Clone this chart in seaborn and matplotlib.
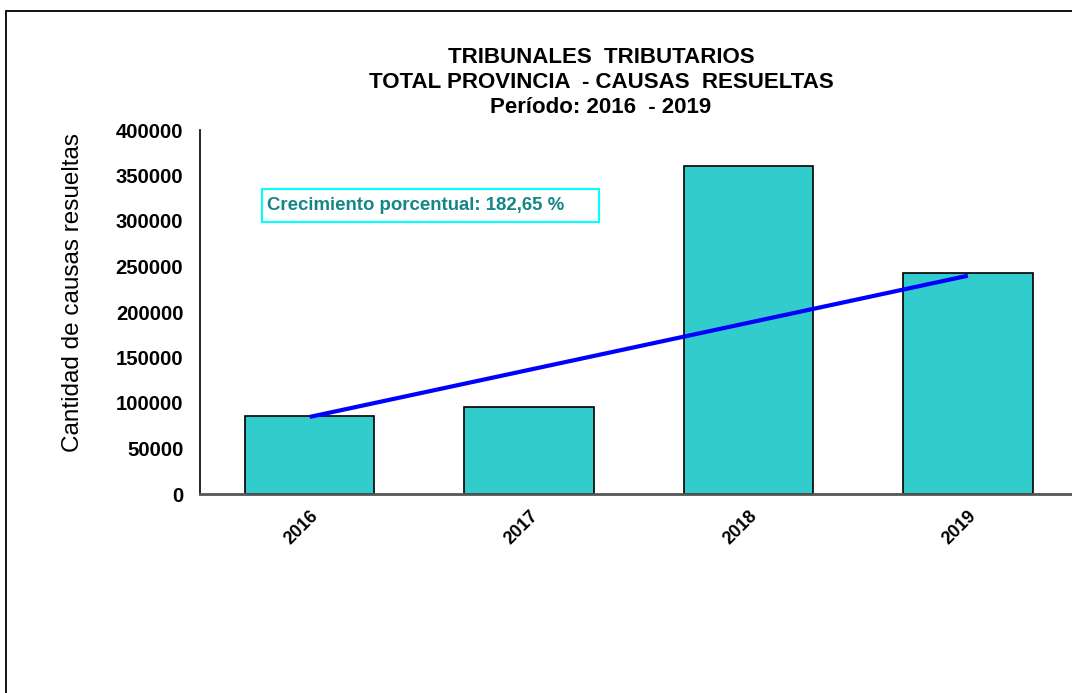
import numpy as np
import pandas as pd
import matplotlib
matplotlib.use("Agg")
import matplotlib.pyplot as plt
from matplotlib.patches import Rectangle
import seaborn as sns

# Datos
anios = ["2016", "2017", "2018", "2019"]
causas = [86000, 95800, 360400, 243100]
tendencia_x = [0, 3]
tendencia_y = [84700, 239900]
yticks = [0, 50000, 100000, 150000, 200000, 250000, 300000, 350000, 400000]

df = pd.DataFrame({"anio": anios, "causas": causas})

sns.set_style("white")
plt.rcParams['font.family'] = ['Liberation Sans', 'DejaVu Sans']
plt.rcParams['text.color'] = 'black'
plt.rcParams['axes.labelcolor'] = 'black'
plt.rcParams['xtick.color'] = 'black'
plt.rcParams['ytick.color'] = 'black'

W, H = 1072, 693
fig = plt.figure(figsize=(W / 100, H / 100), dpi=100)
ax = fig.add_axes([200 / W, (H - 494) / H, 877.6 / W, 364 / H])

sns.barplot(data=df, x="anio", y="causas", color="#33CCCC", width=0.59,
            edgecolor="black", linewidth=1.2, saturation=1, ax=ax)
ax.plot(tendencia_x, tendencia_y, color="#0000FF", lw=3, solid_capstyle="butt")

ax.set_xlim(-0.5, 3.5)
ax.set_ylim(0, 400000)
ax.set_yticks(yticks)
ax.set_yticklabels([str(v) for v in yticks], fontsize=14.6, fontweight="bold")
ax.set_xticks(range(len(anios)))
ax.set_xticklabels(anios, rotation=45, ha="right", rotation_mode="anchor",
                   fontsize=13, fontweight="bold")
ax.set_xticks([-0.5, 0.5, 1.5, 2.5, 3.5], minor=True)
ax.tick_params(axis="x", which="major", length=0, pad=10)
ax.tick_params(axis="x", which="minor", length=5, width=1.2, direction="out", color="#333333")
ax.tick_params(axis="y", length=6, width=1.2, direction="out", color="black", pad=6)
ax.set_xlabel("")
ax.set_ylabel("Cantidad de causas resueltas", fontsize=17.5)
ax.yaxis.set_label_coords(-0.132, 0.5536)

for s in ["top", "right"]:
    ax.spines[s].set_visible(False)
ax.spines["left"].set_linewidth(1.2)
ax.spines["left"].set_color("black")
ax.spines["bottom"].set_linewidth(2)
ax.spines["bottom"].set_color("#555555")

ax.set_title("TRIBUNALES  TRIBUTARIOS\nTOTAL PROVINCIA  - CAUSAS  RESUELTAS\nPeríodo: 2016  - 2019",
             fontsize=16, fontweight="bold", linespacing=1.25, pad=12,
             x=(601 - 200) / 877.6)

# Cuadro de crecimiento
fig.patches.append(Rectangle((262 / W, (H - 222) / H), 337 / W, 33 / H,
                             transform=fig.transFigure, fill=False,
                             edgecolor="#00FFFF", lw=1.5))
fig.text(267 / W, (H - 205.5) / H, "Crecimiento porcentual: 182,65 %",
         fontsize=13.4, fontweight="bold", color="#138686", va="center")

# Marco exterior
fig.patches.append(Rectangle((6 / W, -0.1), 1.2, (H - 11) / H + 0.1,
                             transform=fig.transFigure, fill=False,
                             edgecolor="black", lw=1.3))

fig.savefig("out.png", dpi=100)
